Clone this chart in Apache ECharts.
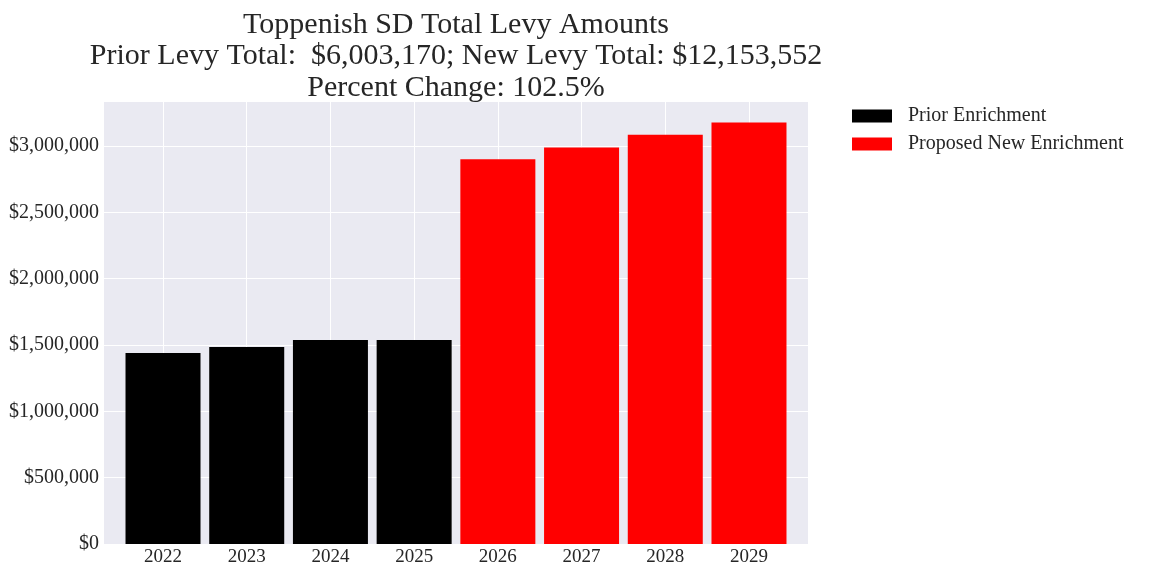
<!DOCTYPE html>
<html><head><meta charset="utf-8">
<script src="https://cdn.jsdelivr.net/npm/echarts@6/dist/echarts.min.js"></script>
<style>html,body{margin:0;padding:0;background:#fff}#c{width:1152px;height:576px}</style>
</head><body><div id="c"></div>
<script>
const years = ['2022','2023','2024','2025','2026','2027','2028','2029'];
const priorIdx = [0,1,2,3];
const priorValues = [1440000, 1486000, 1538000, 1539000];
const newIdx = [4,5,6,7];
const newValues = [2900000, 2990000, 3085000, 3178000];
const yTicks = [0,500000,1000000,1500000,2000000,2500000,3000000];
const titleText = 'Toppenish SD Total Levy Amounts\nPrior Levy Total:  $6,003,170; New Levy Total: $12,153,552\nPercent Change: 102.5%';

const font = 'Liberation Serif';
const fmt = v => '$' + Math.round(v).toString().replace(/\B(?=(\d{3})+(?!\d))/g, ',');
const chart = echarts.init(document.getElementById('c'), null, {renderer:'canvas'});
const idxAll = years.map((_, i) => i);
chart.setOption({
  animation: false,
  textStyle: {fontFamily: font},
  title: {
    text: titleText, left: 456, top: 9, textAlign: 'center', padding: 0,
    textStyle: {fontFamily: font, fontSize: 30, lineHeight: 31.5, fontWeight: 'normal', color: '#262626'}
  },
  legend: {
    orient: 'vertical', left: 852, top: 106, itemWidth: 40, itemHeight: 13, itemGap: 8, padding: 0,
    icon: 'rect',
    textStyle: {fontFamily: font, fontSize: 20, color: '#262626', padding: [0,0,0,11]},
    data: ['Prior Enrichment', 'Proposed New Enrichment']
  },
  grid: {left: 104, top: 101, width: 704, height: 443, show: true, backgroundColor: '#EAEAF2', borderWidth: 0},
  xAxis: {
    type: 'value', min: -0.705, max: 7.705,
    axisLine: {show: false}, axisTick: {show: false, customValues: idxAll},
    splitLine: {show: false},
    axisLabel: {customValues: idxAll, formatter: v => years[Math.round(v)] || '', fontFamily: font, fontSize: 19, color: '#262626', margin: 4}
  },
  yAxis: {
    type: 'value', min: 0, max: 3340000, interval: 500000,
    axisLine: {show: false}, axisTick: {show: false},
    splitLine: {show: true, lineStyle: {color: '#ffffff', width: 1}},
    axisLabel: {customValues: yTicks, formatter: v => fmt(v), fontFamily: font, fontSize: 20, color: '#262626', margin: 5}
  },
  series: [
    {
      name: 'Prior Enrichment', type: 'bar', barWidth: 75, barGap: '-100%',
      itemStyle: {color: '#000000'},
      data: priorIdx.map((x, i) => [x, priorValues[i]]),
      markLine: {
        silent: true, symbol: 'none', label: {show: false}, z: 1,
        lineStyle: {color: '#ffffff', width: 1, type: 'solid'},
        data: idxAll.map(x => ({xAxis: x}))
      }
    },
    {
      name: 'Proposed New Enrichment', type: 'bar', barWidth: 75, barGap: '-100%',
      itemStyle: {color: '#ff0000'},
      data: newIdx.map((x, i) => [x, newValues[i]])
    }
  ]
});
</script></body></html>
